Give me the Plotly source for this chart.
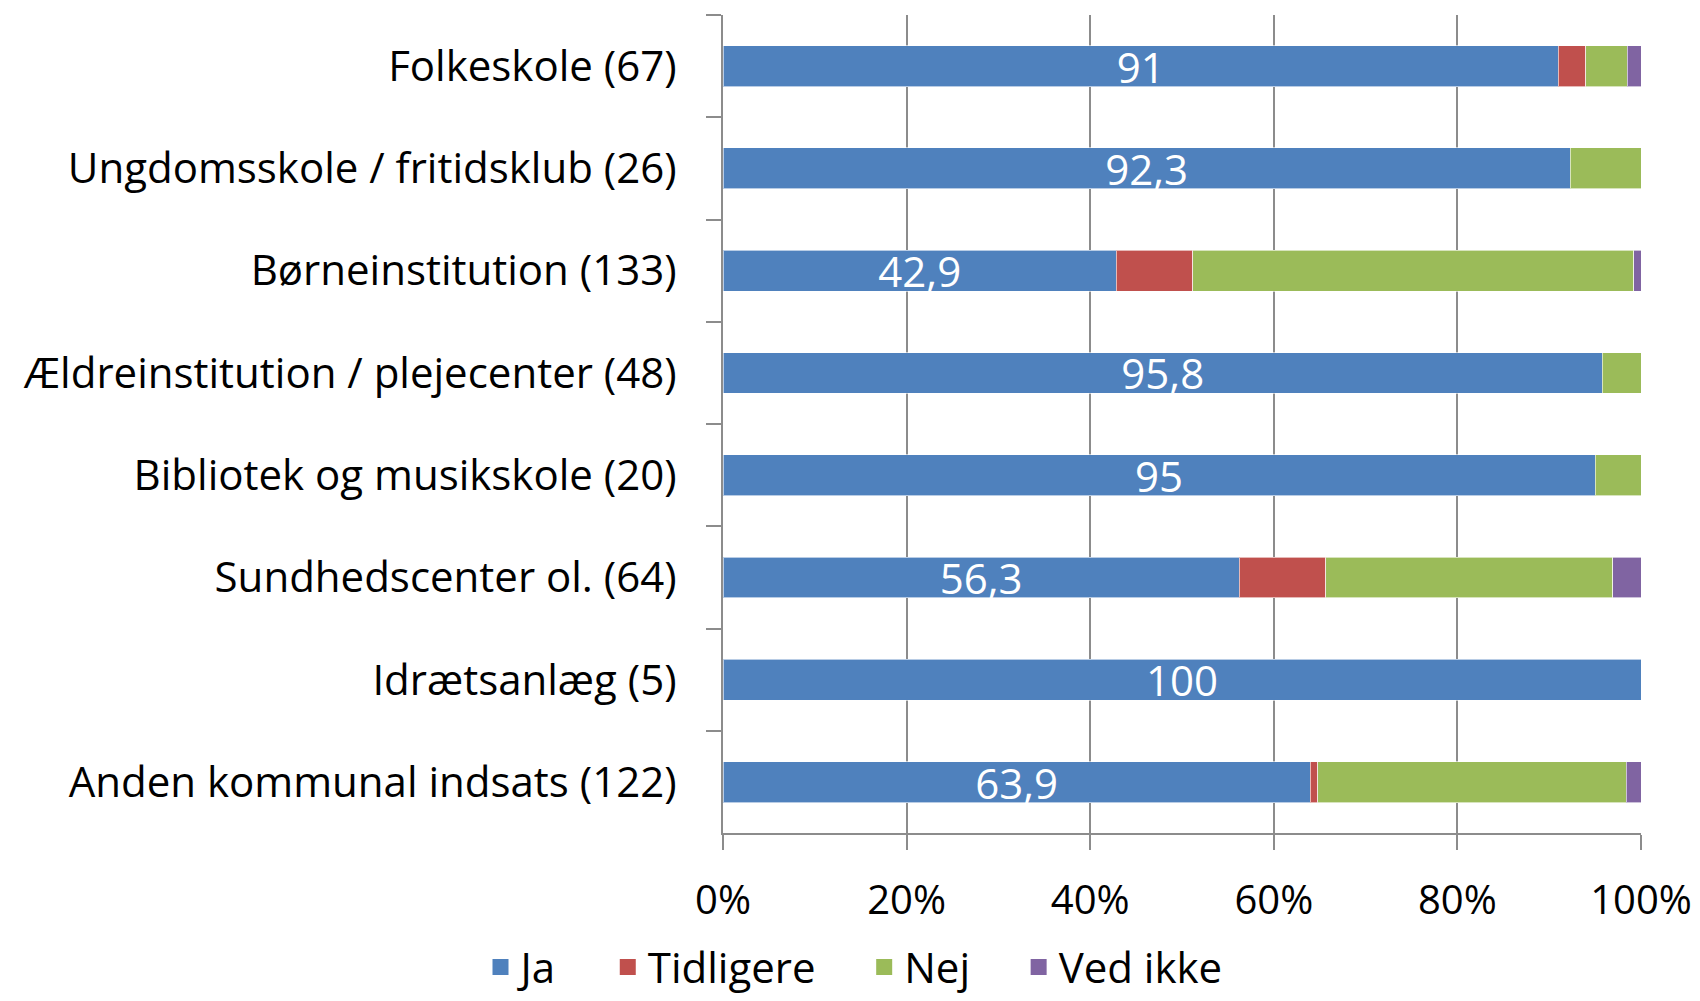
import plotly.graph_objects as go

# categories top to bottom, (n) = number of answers
categories = [
    "Folkeskole (67)",
    "Ungdomsskole / fritidsklub (26)",
    "Børneinstitution (133)",
    "Ældreinstitution / plejecenter (48)",
    "Bibliotek og musikskole (20)",
    "Sundhedscenter ol. (64)",
    "Idrætsanlæg (5)",
    "Anden kommunal indsats (122)",
]

ja = [91.0, 92.3, 42.9, 95.8, 95.0, 56.3, 100.0, 63.9]
tidligere = [3.0, 0.0, 8.3, 0.0, 0.0, 9.4, 0.0, 0.8]
nej = [4.5, 7.7, 48.1, 4.2, 5.0, 31.3, 0.0, 33.6]
ved_ikke = [1.5, 0.0, 0.8, 0.0, 0.0, 3.1, 0.0, 1.6]

x_ticks = [0, 20, 40, 60, 80, 100]
x_tick_labels = ["0%", "20%", "40%", "60%", "80%", "100%"]

FONT = "Open Sans, sans-serif"
GRID = "#8c8c8c"
PAD = "\u00a0" * 4  # extra room between legend entries

series = [
    ("Ja", ja, "#4F81BD"),
    ("Tidligere", tidligere, "#C0504D"),
    ("Nej", nej, "#9BBB59"),
    ("Ved ikke", ved_ikke, "#8064A2"),
]

fig = go.Figure()
for name, values, color in series:
    bar = go.Bar(
        name=name,
        y=categories,
        x=values,
        orientation="h",
        marker=dict(color=color, line=dict(color="rgba(255,255,255,0.6)", width=1)),
        showlegend=False,
        hoverinfo="x+y+name",
    )
    if name == "Ja":
        bar.text = [f"{v:g}".replace(".", ",") for v in values]
        bar.textposition = "inside"
        bar.insidetextanchor = "middle"
        bar.textangle = 0
        bar.textfont = dict(color="white", size=42, family=FONT)
    fig.add_trace(bar)

# legend proxies: square markers are bigger than the default bar swatches
for i, (name, values, color) in enumerate(series):
    fig.add_trace(go.Scatter(
        name=name + (PAD if i < len(series) - 1 else ""),
        x=[None],
        y=[None],
        mode="markers",
        marker=dict(symbol="square", size=16, color=color),
        showlegend=True,
    ))

# the page body has an 8px margin, so the figure is a bit smaller than the window
fig.update_layout(
    barmode="stack",
    barnorm="percent",
    bargap=0.6,
    width=1692,
    height=993,
    margin=dict(l=715, r=59, t=7, b=164),
    paper_bgcolor="white",
    plot_bgcolor="white",
    font=dict(family=FONT, size=42, color="black"),
    uniformtext=dict(minsize=42, mode="show"),
    showlegend=True,
    legend=dict(
        orientation="h",
        xref="container",
        x=0.5,
        xanchor="center",
        yref="container",
        y=0.034,
        yanchor="middle",
        font=dict(size=42),
        traceorder="normal",
        itemwidth=30,
    ),
)

fig.update_xaxes(
    range=[0, 100],
    tickvals=x_ticks,
    ticktext=x_tick_labels,
    tickfont=dict(size=40),
    showgrid=True,
    gridcolor=GRID,
    gridwidth=2,
    zeroline=False,
    showline=True,
    linecolor=GRID,
    linewidth=2,
    ticks="outside",
    ticklen=15,
    tickwidth=2,
    tickcolor=GRID,
    ticklabelstandoff=16,
)

fig.update_yaxes(
    autorange="reversed",
    showgrid=False,
    showline=True,
    linecolor=GRID,
    linewidth=2,
    ticks="outside",
    tickson="boundaries",
    ticklen=15,
    tickwidth=2,
    tickcolor=GRID,
    ticklabelstandoff=36,
)

fig.write_html("out.html")
